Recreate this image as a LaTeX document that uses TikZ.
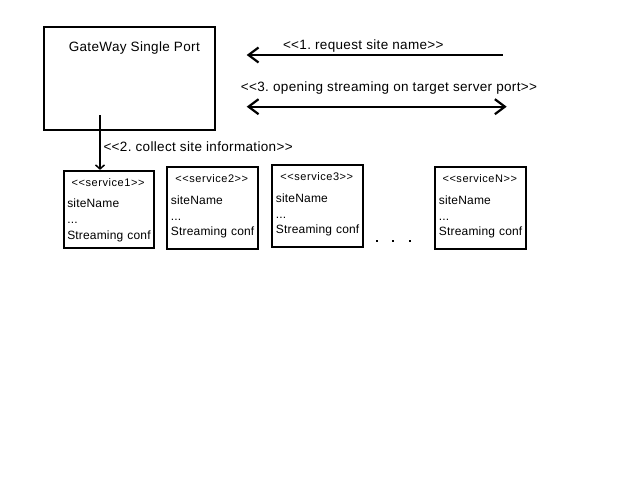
\documentclass[tikz,border=0pt]{standalone}
\usepackage{fontspec}
\setmainfont{Liberation Sans}[Ligatures=TeXOff]
\usetikzlibrary{arrows.meta,positioning}
\frenchspacing

\begin{document}
\begin{tikzpicture}[x=1pt,y=-1pt,
pasarela/.style={draw,line width=2.2pt,minimum width=170.7pt,minimum height=102.5pt,inner sep=0pt},
servicio/.style={draw,line width=2.2pt,minimum width=90.7pt,inner sep=0pt},
campos/.style={anchor=north west,text width=88pt,inner sep=0pt,align=left,
  font=\fontsize{12}{15.75}\selectfont\addfontfeature{LetterSpace=1.5}},
etiqueta/.style={font=\fontsize{13.5}{16}\selectfont\addfontfeature{LetterSpace=2.5},inner sep=0pt,anchor=base},
flecha/.style={line width=2.2pt,-{Straight Barb[length=10pt,width=15pt,line width=2.2pt]}},
doble/.style={line width=2.2pt,{Straight Barb[length=10pt,width=15pt,line width=2.2pt]}-{Straight Barb[length=10pt,width=15pt,line width=2.2pt]}},
fina/.style={line width=1.3pt,-{Straight Barb[length=4pt,width=9pt,line width=1.5pt]}}
]
\useasboundingbox (0,0) rectangle (640,480);

\node[pasarela] (gw) at (129.3,78.4) {};
\node[etiqueta] (gwtxt) at (134.3,51) {GateWay Single Port};

\node[servicio,minimum height=77pt] (s1) at (109,209.5) {};
\node[servicio,minimum height=81.4pt] (s2) at (212.7,208) {};
\node[servicio,minimum height=82pt] (s3) at (317.7,206.3) {};
\node[servicio,minimum height=81.4pt] (sn) at (480.7,208) {};

\node[campos] (s1txt) at ([xshift=4.5pt,yshift=-8.4pt]s1.north west)
  {\makebox[81.7pt]{\fontsize{11}{13}\selectfont\addfontfeature{LetterSpace=5}<<service1>>}\\[5.75pt]siteName\\...\\Streaming conf};
\node[campos] (s2txt) at ([xshift=4.5pt,yshift=-8.4pt]s2.north west)
  {\makebox[81.7pt]{\fontsize{11}{13}\selectfont\addfontfeature{LetterSpace=5}<<service2>>}\\[5.75pt]siteName\\...\\Streaming conf};
\node[campos] (s3txt) at ([xshift=4.5pt,yshift=-8.4pt]s3.north west)
  {\makebox[81.7pt]{\fontsize{11}{13}\selectfont\addfontfeature{LetterSpace=5}<<service3>>}\\[5.75pt]siteName\\...\\Streaming conf};
\node[campos] (sntxt) at ([xshift=4.5pt,yshift=-8.4pt]sn.north west)
  {\makebox[81.7pt]{\fontsize{11}{13}\selectfont\addfontfeature{LetterSpace=5}<<serviceN>>}\\[5.75pt]siteName\\...\\Streaming conf};

% puntos suspensivos
\foreach \x in {377,393,410}
  \fill (\x-1.2,239.8) rectangle +(2.5,2.5);

% mensajes
\coordinate (m1ini) at (502.7,55);
\coordinate (m1fin) at (246.7,55);
\draw[flecha] (m1ini) -- (m1fin);
\node[etiqueta] (m1txt) at (363.3,49.5) {<<1. request site name>>};

\coordinate (m3izq) at (246.7,106.7);
\coordinate (m3der) at (506.7,106.7);
\draw[doble] (m3izq) -- (m3der);
\node[etiqueta] (m3txt) at (389,91.5) {<<3. opening streaming on target server port>>};

\coordinate (m2ini) at (100,115);
\draw[fina] (m2ini) -- (m2ini |- s1.north);
\node[etiqueta,anchor=base west] (m2txt) at (103.3,151.5) {<<2. collect site information>>};
\end{tikzpicture}
\end{document}
